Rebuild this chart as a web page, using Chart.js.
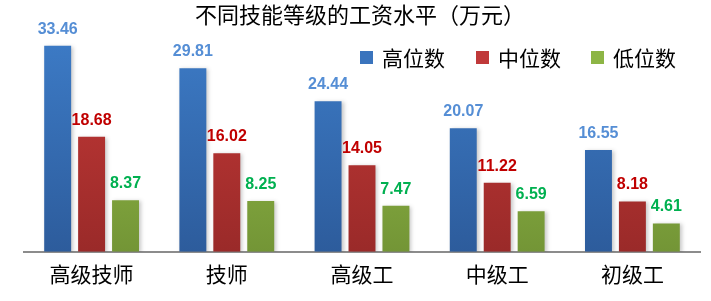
<!DOCTYPE html>
<html>
<head>
<meta charset="utf-8">
<script src="https://cdn.jsdelivr.net/npm/chart.js@4.4.0/dist/chart.umd.min.js"></script>
<style>
  html, body { margin: 0; padding: 0; background: #fff; }
  #wrap { width: 711px; height: 301px; }
</style>
</head>
<body>
<div id="wrap"><canvas id="payChart" width="711" height="301"></canvas></div>
<script>
var chartTitle = "不同技能等级的工资水平（万元）";
var levels = ["高级技师", "技师", "高级工", "中级工", "初级工"];
var highValues = [33.46, 29.81, 24.44, 20.07, 16.55];
var midValues = [18.68, 16.02, 14.05, 11.22, 8.18];
var lowValues = [8.37, 8.25, 7.47, 6.59, 4.61];
var seriesNames = ["高位数", "中位数", "低位数"];

var cjkFont = "'Noto Sans CJK SC', 'Noto Sans', sans-serif";

// top / bottom colours of each bar gradient
var barColors = [
    ["#3f80cd", "#2d5c9c"],
    ["#cc3c3a", "#9a2a29"],
    ["#9fc84e", "#739536"]
];
var labelColors = ["#558ed5", "#c00000", "#00b050"];
var legendColors = ["#3a74bd", "#c0393a", "#8db545"];

function makeGradient(i) {
    return function (context) {
        var chart = context.chart;
        var area = chart.chartArea;
        if (!area) return barColors[i][0];
        var g = chart.ctx.createLinearGradient(0, area.top, 0, area.bottom);
        g.addColorStop(0, barColors[i][0]);
        g.addColorStop(1, barColors[i][1]);
        return g;
    };
}

var extrasPlugin = {
    id: 'extras',
    beforeDatasetsDraw: function (chart) {
        var ctx = chart.ctx;
        ctx.save();
        ctx.shadowColor = "rgba(0,0,0,0.22)";
        ctx.shadowBlur = 4;
        ctx.shadowOffsetX = 2;
        ctx.shadowOffsetY = 1;
    },
    afterDatasetsDraw: function (chart) {
        var ctx = chart.ctx;
        ctx.restore();

        // value labels
        ctx.save();
        ctx.font = "bold 16px 'Liberation Sans', Arial, sans-serif";
        ctx.textAlign = "center";
        ctx.textBaseline = "alphabetic";
        chart.data.datasets.forEach(function (ds, i) {
            var meta = chart.getDatasetMeta(i);
            ctx.fillStyle = labelColors[i];
            meta.data.forEach(function (bar, j) {
                ctx.fillText(ds.data[j].toFixed(2), bar.x, bar.y - 12);
            });
        });
        ctx.restore();

        // title
        ctx.save();
        ctx.font = "22px " + cjkFont;
        ctx.fillStyle = "#000";
        ctx.textAlign = "center";
        ctx.textBaseline = "middle";
        ctx.fillText(chartTitle, 360, 15);
        ctx.restore();

        // legend
        ctx.save();
        ctx.font = "21px " + cjkFont;
        ctx.textBaseline = "middle";
        var lx = [360, 476, 591];
        seriesNames.forEach(function (name, i) {
            ctx.fillStyle = legendColors[i];
            ctx.fillRect(lx[i], 51, 13, 13);
            ctx.fillStyle = "#000";
            ctx.fillText(name, lx[i] + 22, 58);
        });
        ctx.restore();
    }
};

var ctx = document.getElementById("payChart").getContext("2d");
var chart = new Chart(ctx, {
    type: 'bar',
    data: {
        labels: levels,
        datasets: [{
            label: seriesNames[0],
            data: highValues,
            backgroundColor: makeGradient(0)
        }, {
            label: seriesNames[1],
            data: midValues,
            backgroundColor: makeGradient(1)
        }, {
            label: seriesNames[2],
            data: lowValues,
            backgroundColor: makeGradient(2)
        }]
    },
    options: {
        responsive: false,
        animation: false,
        devicePixelRatio: 1,
        categoryPercentage: 0.753,
        barPercentage: 0.794,
        layout: { padding: { left: 24, right: 11, top: 0, bottom: 12 } },
        plugins: {
            legend: { display: false },
            title: { display: false },
            tooltip: { enabled: false }
        },
        scales: {
            x: {
                grid: { display: false },
                border: { display: true, color: "#8c8c8c", width: 2 },
                ticks: {
                    color: "#000",
                    font: { size: 21, family: cjkFont },
                    padding: 2
                }
            },
            y: {
                display: false,
                min: 0,
                max: 40.9
            }
        }
    },
    plugins: [extrasPlugin]
});
</script>
</body>
</html>
